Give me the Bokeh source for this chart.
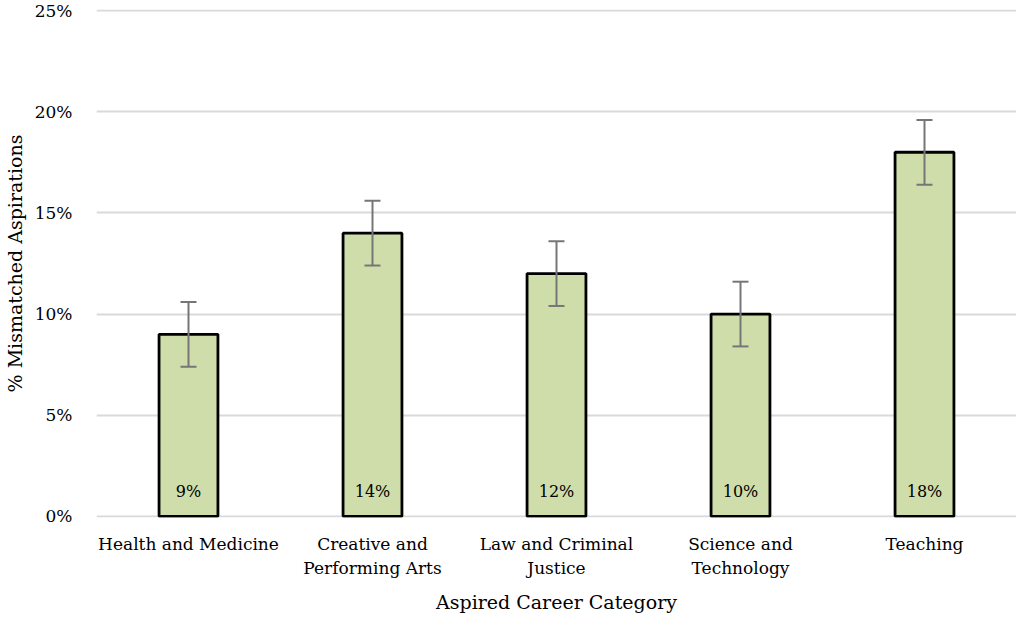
from bokeh.plotting import figure
from bokeh.models import ColumnDataSource, Whisker, TeeHead, FixedTicker, NumeralTickFormatter, Range1d
from bokeh.embed import file_html
from bokeh.resources import INLINE

categories = ["Health and Medicine", "Creative and\nPerforming Arts", "Law and Criminal\nJustice",
              "Science and\nTechnology", "Teaching"]
values = [0.09, 0.14, 0.12, 0.10, 0.18]
errors = [0.016, 0.016, 0.016, 0.016, 0.016]
value_labels = ["9%", "14%", "12%", "10%", "18%"]
y_ticks = [0.0, 0.05, 0.10, 0.15, 0.20, 0.25]

FONT = "DejaVu Serif"

src = ColumnDataSource(dict(
    cat=categories, val=values,
    upper=[v + e for v, e in zip(values, errors)],
    lower=[v - e for v, e in zip(values, errors)],
    lab=value_labels, zero=[0.0] * len(values),
))

p = figure(x_range=categories, y_range=Range1d(-0.0006, 0.2506),
           width=1016, height=618,
           output_backend="svg", toolbar_location=None,
           min_border_left=94, min_border_right=0, min_border_top=9, min_border_bottom=101)
p.outline_line_color = None
p.background_fill_color = "white"
p.border_fill_color = "white"

p.vbar(x="cat", top="val", width=0.32, source=src, fill_color="#cfddaa",
       line_color="black", line_width=2.8)

w = Whisker(base="cat", upper="upper", lower="lower", source=src,
            line_color="#767676", line_width=2, level="annotation",
            upper_head=TeeHead(size=16, line_color="#767676", line_width=2),
            lower_head=TeeHead(size=16, line_color="#767676", line_width=2))
p.add_layout(w)

p.text(x="cat", y="zero", text="lab", source=src, text_align="center",
       text_baseline="alphabetic", y_offset=-25, text_font_size="16px",
       text_color="black", text_font={"value": FONT})

p.yaxis.ticker = FixedTicker(ticks=y_ticks)
p.yaxis.formatter = NumeralTickFormatter(format="0%")
p.ygrid.ticker = FixedTicker(ticks=y_ticks)
p.ygrid.grid_line_color = "#d9d9d9"
p.ygrid.grid_line_width = 2
p.xgrid.grid_line_color = None

for ax in (p.xaxis, p.yaxis):
    ax.axis_line_color = None
    ax.major_tick_line_color = None
    ax.minor_tick_line_color = None
    ax.major_label_text_font = FONT
    ax.major_label_text_font_size = "17px"
    ax.major_label_text_color = "#000000"
    ax.axis_label_text_font = FONT
    ax.axis_label_text_font_size = "19px"
    ax.axis_label_text_font_style = "normal"
    ax.axis_label_text_color = "#000000"

p.xaxis.axis_label = "Aspired Career Category"
p.yaxis.axis_label = "% Mismatched Aspirations"
p.xaxis.major_label_standoff = 10
p.yaxis.major_label_standoff = 18
p.xaxis.axis_label_standoff = 10
p.yaxis.axis_label_standoff = 6

open("out.html", "w").write(file_html(p, INLINE))
